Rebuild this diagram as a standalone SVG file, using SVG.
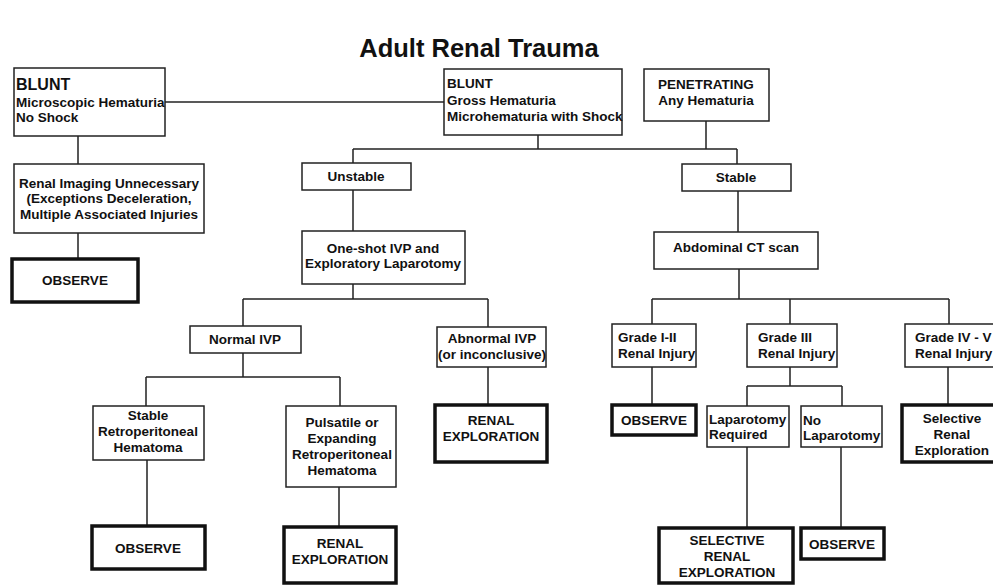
<svg xmlns="http://www.w3.org/2000/svg" width="993" height="585" viewBox="0 0 993 585">
<style>
.b{fill:#fff;stroke:#222;stroke-width:1.5}
.t{fill:#fff;stroke:#111;stroke-width:3.5}
text{font-family:"Liberation Sans",Arial,sans-serif;font-weight:bold;font-size:13.5px;fill:#111}
.c{text-anchor:middle}
.big{font-size:16px}
.title{font-size:25.5px;text-anchor:middle}
#conn path{fill:none;stroke:#222;stroke-width:1.5}
</style>
<rect width="993" height="585" fill="#fff"/>
<text class="title" x="479" y="57">Adult Renal Trauma</text>
<g id="conn">
<path d="M165 102H444"/>
<path d="M78 136V164M78 233V259"/>
<path d="M538 135V149M353 149H737M353 149V163M737 149V164M706 121V149"/>
<path d="M353 190V231M353 284V299M243 299H488M243 299V326M488 299V327"/>
<path d="M243 353V377M146 377H340M146 377V406M340 377V406"/>
<path d="M488 367V405M147 460V526M339 487V527"/>
<path d="M738 191V232M739 269V299M652 299H949M652 299V324M790 299V324M949 299V324"/>
<path d="M652 367V405M790 367V386M747 386H842M747 386V406M842 386V406"/>
<path d="M747 447V528M841 447V528M948 367V405"/>
</g>
<g id="blunt-micro"><rect class="b" x="14" y="68" width="151" height="68"/><text class="big" x="16" y="90">BLUNT</text><text x="16" y="107">Microscopic Hematuria</text><text x="16" y="122">No Shock</text></g>
<g id="blunt-gross"><rect class="b" x="444" y="69" width="178" height="66"/><text x="447" y="88">BLUNT</text><text x="447" y="105">Gross Hematuria</text><text x="447" y="121">Microhematuria with Shock</text></g>
<g id="penetrating"><rect class="b" x="644" y="69" width="125" height="52"/><text class="c" x="706" y="89">PENETRATING</text><text class="c" x="706" y="105">Any Hematuria</text></g>
<g id="renal-imaging"><rect class="b" x="14" y="164" width="190" height="69"/><text class="c" x="109" y="188">Renal Imaging Unnecessary</text><text class="c" x="109" y="203">(Exceptions Deceleration,</text><text class="c" x="109" y="219">Multiple Associated Injuries</text></g>
<g id="observe1"><rect class="t" x="12" y="259" width="126" height="43"/><text class="c" x="75" y="285">OBSERVE</text></g>
<g id="unstable"><rect class="b" x="302" y="163" width="109" height="27"/><text class="c" x="356" y="181">Unstable</text></g>
<g id="stable"><rect class="b" x="682" y="164" width="109" height="27"/><text class="c" x="736" y="182">Stable</text></g>
<g id="oneshot"><rect class="b" x="302" y="231" width="163" height="53"/><text class="c" x="383" y="253">One-shot IVP and</text><text class="c" x="383" y="268">Exploratory Laparotomy</text></g>
<g id="ct"><rect class="b" x="654" y="232" width="164" height="37"/><text class="c" x="736" y="252">Abdominal CT scan</text></g>
<g id="normal-ivp"><rect class="b" x="190" y="326" width="111" height="27"/><text class="c" x="245" y="344">Normal IVP</text></g>
<g id="abnormal-ivp"><rect class="b" x="437" y="327" width="109" height="40"/><text class="c" x="492" y="343">Abnormal IVP</text><text class="c" x="492" y="359">(or inconclusive)</text></g>
<g id="stable-retro"><rect class="b" x="93" y="406" width="111" height="54"/><text class="c" x="148" y="420">Stable</text><text class="c" x="148" y="436">Retroperitoneal</text><text class="c" x="148" y="452">Hematoma</text></g>
<g id="pulsatile"><rect class="b" x="286" y="406" width="110" height="81"/><text class="c" x="342" y="427">Pulsatile or</text><text class="c" x="342" y="443">Expanding</text><text class="c" x="342" y="459">Retroperitoneal</text><text class="c" x="342" y="475">Hematoma</text></g>
<g id="renal-exp1"><rect class="t" x="435" y="405" width="112" height="57"/><text class="c" x="491" y="425">RENAL</text><text class="c" x="491" y="441">EXPLORATION</text></g>
<g id="observe2"><rect class="t" x="92" y="526" width="113" height="43"/><text class="c" x="148" y="553">OBSERVE</text></g>
<g id="renal-exp2"><rect class="t" x="284" y="527" width="112" height="56"/><text class="c" x="340" y="548">RENAL</text><text class="c" x="340" y="564">EXPLORATION</text></g>
<g id="grade12"><rect class="b" x="612" y="324" width="84" height="43"/><text x="618" y="342">Grade I-II</text><text x="618" y="358">Renal Injury</text></g>
<g id="grade3"><rect class="b" x="747" y="324" width="90" height="43"/><text x="758" y="342">Grade III</text><text x="758" y="358">Renal Injury</text></g>
<g id="grade45"><rect class="b" x="905" y="324" width="100" height="43"/><text x="915" y="342">Grade IV - V</text><text x="915" y="358">Renal Injury</text></g>
<g id="observe3"><rect class="t" x="612" y="405" width="84" height="30"/><text class="c" x="654" y="425">OBSERVE</text></g>
<g id="lap-req"><rect class="b" x="707" y="406" width="82" height="41"/><text x="709" y="424">Laparotomy</text><text x="709" y="439">Required</text></g>
<g id="no-lap"><rect class="b" x="801" y="406" width="81" height="41"/><text x="803" y="425">No</text><text x="803" y="440">Laparotomy</text></g>
<g id="sel-renal"><rect class="t" x="902" y="405" width="100" height="57"/><text class="c" x="952" y="423">Selective</text><text class="c" x="952" y="439">Renal</text><text class="c" x="952" y="455">Exploration</text></g>
<g id="sel-renal-exp"><rect class="t" x="659" y="528" width="134" height="55"/><text class="c" x="727" y="545">SELECTIVE</text><text class="c" x="727" y="561">RENAL</text><text class="c" x="727" y="577">EXPLORATION</text></g>
<g id="observe4"><rect class="t" x="801" y="528" width="83" height="31"/><text class="c" x="842" y="549">OBSERVE</text></g>
</svg>
